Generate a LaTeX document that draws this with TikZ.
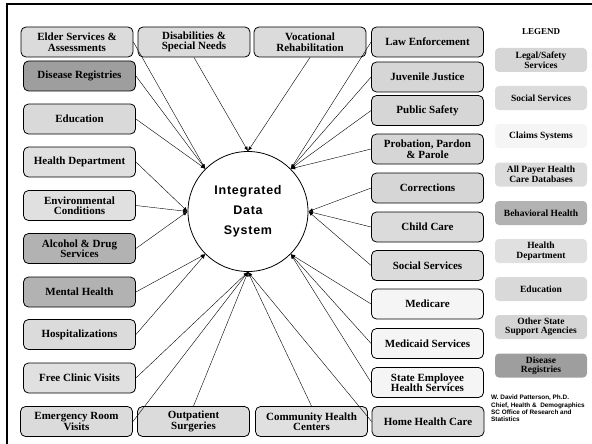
\documentclass[tikz,border=0pt]{standalone}
\usepackage{fontspec}
\setmainfont{Liberation Serif}
\newfontfamily\circfont[LetterSpace=6]{Liberation Sans}
\newfontfamily\notefont{Liberation Sans}
\usetikzlibrary{arrows.meta}

\colorlet{legalc}{black!16}
\colorlet{socialc}{black!14}
\colorlet{claimsc}{black!4}
\colorlet{payerc}{black!14}
\colorlet{behavc}{black!30}
\colorlet{healthc}{black!12}
\colorlet{educc}{black!15}
\colorlet{otherc}{black!17}
\colorlet{diseasec}{black!38}

\begin{document}
\begin{tikzpicture}[x=1pt,y=-1pt,
  box/.style={draw=black,line width=0.8pt,rounded corners=5pt,minimum width=112pt,minimum height=30pt,inner sep=1pt,align=center,font=\bfseries\fontsize{11}{10.5}\selectfont},
  key/.style={rounded corners=4pt,minimum width=92pt,minimum height=24pt,inner sep=1pt,align=center,font=\bfseries\fontsize{9.5}{9.5}\selectfont},
  link/.style={black,line width=0.4pt,-{Latex[length=4.5pt,width=3.5pt]}}]
\useasboundingbox (0,0) rectangle (592,444);
\draw[line width=2pt] (7,444) -- (7,4) -- (592,4);

% centre
\node[draw=black,line width=0.8pt,fill=white,circle,minimum size=120pt,align=center,font=\circfont\bfseries\fontsize{12.5}{20}\selectfont] (ids) at (248,211.5) {Integrated\\Data\\System};

% top row
\node[box,fill=socialc] (elder) at (77,42) {Elder Services \&\\Assessments};
\node[box,fill=socialc] (disab) at (194,42) {Disabilities \&\\Special Needs};
\node[box,fill=socialc] (vocat) at (310,42) {Vocational\\Rehabilitation};
\node[box,fill=legalc] (law) at (427.5,42) {Law Enforcement};

% left column
\node[box,fill=diseasec] (disease) at (79.5,76) {Disease Registries};
\node[box,fill=educc] (educ) at (79.5,119) {Education};
\node[box,fill=healthc] (healthdep) at (79.5,162) {Health Department};
\node[box,fill=healthc] (environ) at (79.5,205.5) {Environmental\\Conditions};
\node[box,fill=behavc] (alcohol) at (79.5,248.5) {Alcohol \& Drug\\Services};
\node[box,fill=behavc] (mental) at (79.5,292) {Mental Health};
\node[box,fill=payerc] (hospital) at (79.5,334.5) {Hospitalizations};
\node[box,fill=healthc] (clinic) at (79.5,378) {Free Clinic Visits};

% bottom row
\node[box,fill=payerc] (emerg) at (76.5,421.5) {Emergency Room\\Visits};
\node[box,fill=payerc] (outpat) at (193.5,421.5) {Outpatient\\Surgeries};
\node[box,fill=healthc] (commun) at (311.5,421.5) {Community Health\\Centers};
\node[box,fill=payerc] (homecare) at (428,421.5) {Home Health Care};

% right column
\node[box,fill=legalc] (juvenile) at (427.5,77) {Juvenile Justice};
\node[box,fill=legalc] (safety) at (427.5,110.5) {Public Safety};
\node[box,fill=legalc] (probation) at (427.5,149) {Probation, Pardon\\\& Parole};
\node[box,fill=legalc] (correct) at (427.5,188) {Corrections};
\node[box,fill=socialc] (childcare) at (427.5,227) {Child Care};
\node[box,fill=socialc] (social) at (427.5,265.5) {Social Services};
\node[box,fill=claimsc] (medicare) at (427.5,304) {Medicare};
\node[box,fill=claimsc] (medicaid) at (427.5,343.5) {Medicaid Services};
\node[box,fill=claimsc] (stateemp) at (427.5,382.5) {State Employee\\Health Services};

% legend
\node[font=\bfseries\fontsize{9}{9}\selectfont] (legend) at (541,32) {LEGEND};
\node[key,fill=legalc] (klegal) at (541,60) {Legal/Safety\\Services};
\node[key,fill=socialc] (ksocial) at (541,98) {Social Services};
\node[key,fill=claimsc] (kclaims) at (541,136) {Claims Systems};
\node[key,fill=payerc] (kpayer) at (541,174.5) {All Payer Health\\Care Databases};
\node[key,fill=behavc] (kbehav) at (541,213) {Behavioral Health};
\node[key,fill=healthc] (khealth) at (541,251) {Health\\Department};
\node[key,fill=educc] (keduc) at (541,289) {Education};
\node[key,fill=otherc] (kother) at (541,327) {Other State\\Support Agencies};
\node[key,fill=diseasec] (kdisease) at (541,365.5) {Disease\\Registries};
\node[anchor=north west,inner sep=0pt,align=left,font=\notefont\bfseries\fontsize{6.4}{7.3}\selectfont] (credit) at (491,395) {W. David Patterson, Ph.D.\\Chief, Health \&\ \ Demographics\\SC Office of Research and\\Statistics};

% links
\draw[link] (elder.east) -- (ids.north west);
\draw[link] (disease.east) -- (ids.north west);
\draw[link] (educ.east) -- (ids.north west);
\draw[link] (disab.south) -- (ids.north);
\draw[link] (vocat.south) -- (ids.north);
\draw[link] (healthdep.east) -- (ids.west);
\draw[link] (environ.east) -- (ids.west);
\draw[link] (alcohol.east) -- (ids.west);
\draw[link] (mental.east) -- (ids.south west);
\draw[link] (hospital.east) -- (ids.south west);
\draw[link] (clinic.east) -- (ids.south);
\draw[link] (emerg.east) -- (ids.south);
\draw[link] (outpat.north) -- (ids.south);
\draw[link] (commun.north) -- (ids.south);
\draw[link] (homecare.west) -- (ids.south);
\draw[link] (law.west) -- (ids.north east);
\draw[link] (juvenile.west) -- (ids.north east);
\draw[link] (safety.west) -- (ids.north east);
\draw[link] (probation.west) -- (ids.north east);
\draw[link] (correct.west) -- (ids.east);
\draw[link] (childcare.west) -- (ids.east);
\draw[link] (social.west) -- (ids.east);
\draw[link] (medicare.west) -- (ids.south east);
\draw[link] (medicaid.west) -- (ids.south east);
\draw[link] (stateemp.west) -- (ids.south east);
\end{tikzpicture}
\end{document}
